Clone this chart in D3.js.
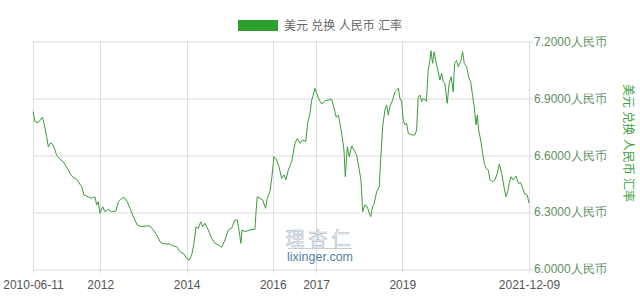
<!DOCTYPE html>
<html>
<head>
<meta charset="utf-8">
<script src="https://cdn.jsdelivr.net/npm/d3@7"></script>
<style>
  body { margin: 0; background: #fff; }
  svg { display: block; font-family: "Liberation Sans", Arial, "Noto Sans CJK SC", sans-serif; }
</style>
</head>
<body>
<svg id="chart" width="640" height="300"></svg>
<script>
// USD -> CNY (decimal year, rate)
const years = [
  2010.441, 2010.487, 2010.564, 2010.657, 2010.696, 2010.758, 2010.796, 2010.851, 2010.911, 2010.990,
  2011.067, 2011.143, 2011.259, 2011.338, 2011.454, 2011.570, 2011.623, 2011.723, 2011.801, 2011.878,
  2011.917, 2011.954, 2011.994, 2012.056, 2012.110, 2012.186, 2012.265, 2012.365, 2012.418, 2012.473,
  2012.550, 2012.626, 2012.689, 2012.765, 2012.858, 2012.960, 2013.076, 2013.152, 2013.229, 2013.308,
  2013.400, 2013.500, 2013.600, 2013.692, 2013.771, 2013.848, 2013.940, 2014.003, 2014.063, 2014.119,
  2014.172, 2014.219, 2014.272, 2014.327, 2014.374, 2014.427, 2014.504, 2014.582, 2014.659, 2014.735,
  2014.814, 2014.891, 2014.967, 2015.046, 2015.122, 2015.176, 2015.222, 2015.261, 2015.285, 2015.354,
  2015.470, 2015.586, 2015.609, 2015.639, 2015.702, 2015.764, 2015.834, 2015.871, 2015.933, 2015.980,
  2016.026, 2016.089, 2016.142, 2016.205, 2016.258, 2016.304, 2016.358, 2016.436, 2016.513, 2016.566,
  2016.629, 2016.691, 2016.761, 2016.807, 2016.860, 2016.900, 2016.937, 2016.976, 2017.016, 2017.076,
  2017.132, 2017.208, 2017.285, 2017.363, 2017.417, 2017.470, 2017.516, 2017.556, 2017.618, 2017.648,
  2017.679, 2017.725, 2017.771, 2017.827, 2017.880, 2017.943, 2018.003, 2018.042, 2018.082, 2018.135,
  2018.188, 2018.235, 2018.267, 2018.313, 2018.351, 2018.406, 2018.466, 2018.499, 2018.545, 2018.599,
  2018.638, 2018.675, 2018.714, 2018.777, 2018.830, 2018.870, 2018.907, 2018.946, 2018.986, 2019.023,
  2019.062, 2019.101, 2019.139, 2019.217, 2019.294, 2019.333, 2019.370, 2019.410, 2019.449, 2019.486,
  2019.560, 2019.602, 2019.641, 2019.665, 2019.704, 2019.741, 2019.780, 2019.834, 2019.873, 2019.913,
  2019.950, 2019.989, 2020.042, 2020.089, 2020.135, 2020.181, 2020.214, 2020.260, 2020.297, 2020.353,
  2020.399, 2020.436, 2020.492, 2020.545, 2020.585, 2020.622, 2020.668, 2020.708, 2020.738, 2020.770,
  2020.816, 2020.863, 2020.900, 2020.939, 2020.993, 2021.032, 2021.095, 2021.148, 2021.201, 2021.248,
  2021.303, 2021.356, 2021.403, 2021.442, 2021.479, 2021.519, 2021.572, 2021.634, 2021.688, 2021.743,
  2021.790, 2021.836, 2021.896, 2021.937
];
const rates = [
  6.830, 6.777, 6.772, 6.800, 6.770, 6.698, 6.645, 6.666, 6.654, 6.600,
  6.579, 6.566, 6.522, 6.490, 6.473, 6.434, 6.390, 6.381, 6.373, 6.381,
  6.338, 6.355, 6.294, 6.329, 6.302, 6.315, 6.302, 6.306, 6.355, 6.368,
  6.378, 6.355, 6.320, 6.276, 6.232, 6.223, 6.227, 6.227, 6.206, 6.179,
  6.139, 6.132, 6.132, 6.121, 6.118, 6.091, 6.079, 6.056, 6.047, 6.074,
  6.135, 6.223, 6.214, 6.249, 6.223, 6.241, 6.206, 6.162, 6.135, 6.127,
  6.114, 6.153, 6.206, 6.215, 6.258, 6.258, 6.197, 6.135, 6.206, 6.197,
  6.206, 6.209, 6.294, 6.381, 6.373, 6.364, 6.320, 6.373, 6.408, 6.487,
  6.592, 6.575, 6.540, 6.478, 6.496, 6.470, 6.522, 6.566, 6.663, 6.689,
  6.663, 6.680, 6.671, 6.769, 6.821, 6.891, 6.918, 6.953, 6.927, 6.891,
  6.870, 6.888, 6.891, 6.895, 6.850, 6.800, 6.812, 6.769, 6.680, 6.628,
  6.487, 6.645, 6.592, 6.649, 6.628, 6.601, 6.522, 6.470, 6.302, 6.338,
  6.329, 6.294, 6.276, 6.329, 6.347, 6.408, 6.434, 6.575, 6.751, 6.839,
  6.865, 6.812, 6.856, 6.891, 6.935, 6.944, 6.953, 6.900, 6.882, 6.786,
  6.760, 6.769, 6.716, 6.707, 6.707, 6.733, 6.909, 6.918, 6.882, 6.900,
  6.885, 7.050, 7.100, 7.151, 7.085, 7.146, 7.093, 7.040, 6.997, 7.032,
  6.988, 6.980, 6.874, 6.980, 7.014, 6.935, 7.085, 7.100, 7.067, 7.093,
  7.146, 7.085, 7.067, 7.006, 6.988, 6.927, 6.856, 6.760, 6.812, 6.733,
  6.680, 6.610, 6.558, 6.531, 6.522, 6.470, 6.460, 6.470, 6.505, 6.554,
  6.505, 6.434, 6.381, 6.408, 6.452, 6.487, 6.470, 6.491, 6.452, 6.455,
  6.426, 6.396, 6.390, 6.347
];
const startDate = "2010-06-11";
const endDate = "2021-12-09";
const xTickLabels = ["2010-06-11", "2012", "2014", "2016", "2017", "2019", "2021-12-09"];
const yTicks = [6.0, 6.3, 6.6, 6.9, 7.2];
const seriesName = "美元 兑换 人民币 汇率";

// decimal year -> Date
function toDate(y) {
  const yr = Math.floor(y);
  const a = new Date(yr, 0, 1), b = new Date(yr + 1, 0, 1);
  return new Date(+a + (y - yr) * (b - a));
}
const parse = d3.timeParse("%Y-%m-%d");
function tickDate(s) { return s.length > 4 ? parse(s) : new Date(+s, 0, 1); }

const data = years.map((y, i) => ({ date: toDate(y), value: rates[i] }));
data[0].date = parse(startDate);
data[data.length - 1].date = parse(endDate);

const width = 640, height = 300;
const margin = { top: 41.5, right: 111, bottom: 31, left: 33 };
const innerWidth = width - margin.left - margin.right;
const innerHeight = height - margin.top - margin.bottom;

const svg = d3.select("svg#chart");
const graph = svg.append("g")
  .attr("transform", `translate(${margin.left}, ${margin.top})`);

const x = d3.scaleTime()
  .domain([parse(startDate), parse(endDate)])
  .range([0, innerWidth]);
const y = d3.scaleLinear()
  .domain([6.0, 7.2])
  .range([innerHeight, 0]);

// grid
graph.append("g")
  .selectAll("line")
  .data(yTicks)
  .join("line")
    .attr("x1", 0).attr("x2", innerWidth + 4)
    .attr("y1", d => Math.round(y(d)) + 0.5).attr("y2", d => Math.round(y(d)) + 0.5)
    .attr("stroke", "#dcdcdc");

graph.append("g")
  .selectAll("line")
  .data(xTickLabels)
  .join("line")
    .attr("x1", d => Math.round(x(tickDate(d))) + 0.5).attr("x2", d => Math.round(x(tickDate(d))) + 0.5)
    .attr("y1", 0).attr("y2", innerHeight + 4)
    .attr("stroke", "#dcdcdc");

// x labels
const xAxis = d3.axisBottom(x)
  .tickValues(xTickLabels.map(tickDate))
  .tickSize(0)
  .tickPadding(11)
  .tickFormat((d, i) => xTickLabels[i]);
const gX = graph.append("g")
  .attr("transform", `translate(0, ${innerHeight})`)
  .call(xAxis);
gX.select(".domain").remove();
gX.selectAll("text")
  .attr("fill", "#555")
  .style("font-size", "12px");

// right y labels
const yAxis = d3.axisRight(y)
  .tickValues(yTicks)
  .tickSize(0)
  .tickPadding(5)
  .tickFormat(d => d3.format(".4f")(d) + "人民币");
const gY = graph.append("g")
  .attr("transform", `translate(${innerWidth}, 0)`)
  .call(yAxis);
gY.select(".domain").remove();
gY.selectAll("text")
  .attr("fill", "#5e8f5e")
  .style("font-size", "12px");

// axis title
svg.append("text")
  .attr("transform", `translate(624, 143) rotate(90)`)
  .attr("text-anchor", "middle")
  .attr("fill", "#3f9f3f")
  .style("font-size", "12px")
  .text(seriesName);

// watermark
const wm = svg.append("g").attr("transform", "translate(320, 0)");
wm.append("text")
  .attr("y", 246)
  .attr("text-anchor", "middle")
  .attr("fill", "#eef1f4")
  .attr("stroke", "#b4bec8")
  .attr("stroke-width", 0.6)
  .style("font-size", "19px")
  .style("letter-spacing", "4px")
  .style("font-family", "Noto Sans CJK SC")
  .text("理杏仁");
wm.append("line")
  .attr("x1", -32).attr("x2", 32)
  .attr("y1", 248.5).attr("y2", 248.5)
  .attr("stroke", "#c4ccd4");
wm.append("text")
  .attr("y", 260.5)
  .attr("text-anchor", "middle")
  .attr("fill", "#4f7f9f")
  .style("font-size", "12.5px")
  .text("lixinger.com");

// line
const line = d3.line()
  .x(d => x(d.date))
  .y(d => y(d.value));
graph.append("path")
  .datum(data)
  .attr("fill", "none")
  .attr("stroke", "#3c9a3c")
  .attr("stroke-width", 1)
  .attr("d", line);

// legend
svg.append("rect")
  .attr("x", 238).attr("y", 20)
  .attr("width", 40).attr("height", 11)
  .attr("fill", "#2ca02c");
svg.append("text")
  .attr("x", 284).attr("y", 30)
  .attr("fill", "#666")
  .style("font-size", "12px")
  .text(seriesName);
</script>
</body>
</html>
